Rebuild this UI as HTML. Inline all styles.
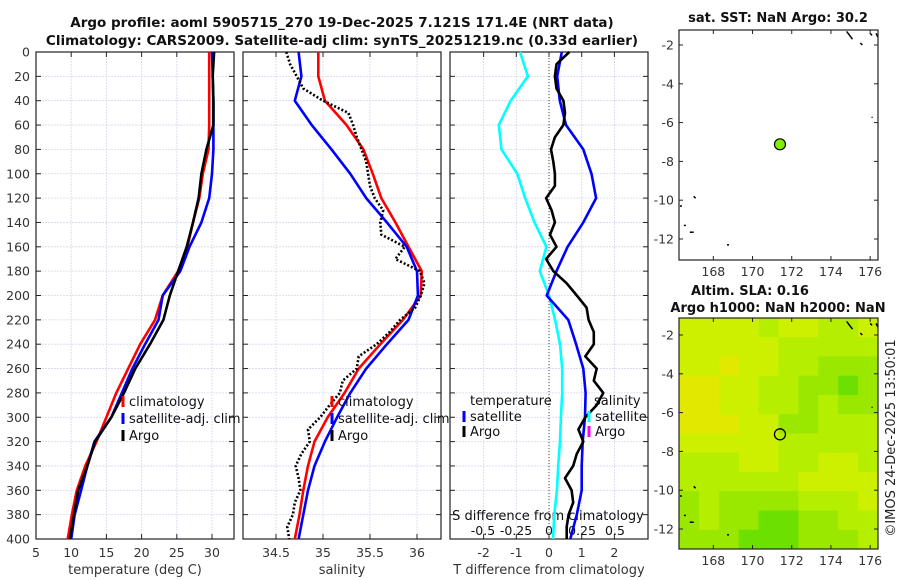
<!DOCTYPE html>
<html><head><meta charset="utf-8"><style>
body{margin:0;background:#fff;width:900px;height:580px;overflow:hidden}
svg{display:block;font-family:"DejaVu Sans","Liberation Sans",sans-serif}
</style></head><body>
<svg id="fig" width="900" height="580" viewBox="0 0 900 580" xmlns="http://www.w3.org/2000/svg"></svg>
<script>
// ---------- data ----------
const depths = [0,20,40,60,80,100,120,140,160,180,200,220,240,260,280,300,320,340,360,380,400];
const tempClim = [29.6,29.6,29.6,29.6,29.5,28.7,28.2,27.3,26.5,25.2,23.0,21.9,19.8,18.1,16.4,15.0,13.6,12.0,10.8,10.1,9.5];
const tempSat  = [30.0,30.1,30.2,30.2,30.2,30.0,29.6,28.5,26.8,25.5,23.0,22.4,20.5,18.7,17.2,15.7,13.3,12.3,11.4,10.5,10.0];
const tempArgo = [30.3,30.1,30.2,30.2,29.2,28.5,28.1,27.3,26.4,25.2,24.0,23.1,21.2,19.1,17.5,15.7,13.4,12.3,11.0,10.4,9.8];
const salClim = [34.95,34.95,35.02,35.25,35.43,35.53,35.62,35.77,35.91,36.05,36.04,35.85,35.61,35.38,35.23,35.05,34.91,34.84,34.79,34.75,34.70];
const salSat  = [34.74,34.77,34.70,34.88,35.09,35.29,35.46,35.68,35.89,36.00,36.01,35.91,35.68,35.46,35.29,35.15,35.02,34.91,34.84,34.79,34.74];
const depths10 = [0,10,20,30,40,50,60,70,80,90,100,110,120,130,140,150,160,170,180,190,200,210,220,230,240,250,260,270,280,290,300,310,320,330,340,350,360,370,380,390,400];
const salArgo = [34.61,34.65,34.72,34.79,35.0,35.27,35.32,35.36,35.41,35.46,35.48,35.5,35.55,35.64,35.61,35.62,35.87,35.77,36.03,36.08,36.04,35.98,35.82,35.71,35.57,35.38,35.36,35.21,35.18,35.07,34.97,34.84,34.86,34.77,34.71,34.74,34.76,34.70,34.68,34.62,34.64];
const tDiffArgo = [0.62,0.23,0.18,0.23,0.44,0.49,0.44,0.18,0.06,0.13,0.18,0.18,-0.09,0.08,0.18,0.03,0.23,-0.09,0.13,0.54,0.85,1.15,1.21,1.37,1.37,1.11,1.46,1.37,1.66,1.46,1.11,0.90,1.05,0.85,0.74,0.49,0.69,0.74,0.60,0.54,0.54];
const tDiffSat = [0.39,0.25,0.33,0.52,1.05,1.30,1.44,1.05,0.57,0.23,-0.07,0.59,0.83,1.05,1.12,1.10,1.03,1.00,1.00,0.85,0.65];
const sDiffSat = [-0.22,-0.16,-0.29,-0.38,-0.36,-0.24,-0.18,-0.11,-0.02,-0.07,0.0,0.046,0.083,0.10,0.10,0.09,0.083,0.07,0.06,0.04,0.03];
const depthTicks = [0,20,40,60,80,100,120,140,160,180,200,220,240,260,280,300,320,340,360,380,400];
const tempTicks = [5,10,15,20,25,30];
const salTicks = [34.5,35,35.5,36];
const salTickLabels = ["34.5","35","35.5","36"];
const tdTicks = [-2,-1,0,1,2];
const sdTicks = [-0.5,-0.25,0,0.25,0.5];
const sdTickLabels = ["-0.5","-0.25","0","0.25","0.5"];
const lonTicks = [168,170,172,174,176];
const latTicks = [-2,-4,-6,-8,-10,-12];
const argoLon = [171.4];
const argoLat = [-7.12];
// SLA map field levels (rows north->south, 10 columns)
const slaRows = ["1111211221","1111122222","1101122333","0011223343","0011223233","0001133222","1111122222","2221122112","2222221111","3233332221","3233443322","3334443332"];

// ---------- helpers ----------
const svg = document.getElementById('fig');
const NS = 'http://www.w3.org/2000/svg';
function el(tag, attrs, parent){const e=document.createElementNS(NS,tag);for(const k in attrs)e.setAttribute(k,attrs[k]);(parent||svg).appendChild(e);return e;}
function txt(s, attrs, parent){const e=el('text',attrs,parent);e.textContent=s;return e;}
const Y0=52, Y1=539;
function yD(d){return Y0+(Y1-Y0)*d/400;}
function line(xs, ys, xf, yf, stroke, w, dash){
  let p=xs.map((v,i)=>(i?'L':'M')+xf(v).toFixed(1)+','+yf(ys[i]).toFixed(1)).join('');
  const a={d:p,fill:'none',stroke:stroke,'stroke-width':w,'stroke-linejoin':'round'};
  if(dash)a['stroke-dasharray']=dash;
  return el('path',a);
}
function panel(x0,x1,name){
  const g=el('g',{});
  
  
  return g;
}
function grid(g,x0,x1,xticks,xf){
  depthTicks.forEach(d=>{el('line',{x1:x0,x2:x1,y1:yD(d),y2:yD(d),stroke:'#d4d8ee','stroke-width':0.8,'stroke-dasharray':'2,1'},g);
    el('line',{x1:x0,x2:x0+5,y1:yD(d),y2:yD(d),stroke:'#222'},g);el('line',{x1:x1-5,x2:x1,y1:yD(d),y2:yD(d),stroke:'#222'},g);});
  xticks.forEach(t=>{const x=xf(t);el('line',{x1:x,x2:x,y1:Y0,y2:Y1,stroke:'#d4d8ee','stroke-width':0.8,'stroke-dasharray':'2,1'},g);
    el('line',{x1:x,x2:x,y1:Y1-5,y2:Y1,stroke:'#222'},g);el('line',{x1:x,x2:x,y1:Y0,y2:Y0+5,stroke:'#222'},g);});
}
function frame(g,x0,x1){el('rect',{x:x0,y:Y0,width:x1-x0,height:Y1-Y0,fill:'none',stroke:'#222','stroke-width':1.2},g);}
function legItem(g,x,y,color,label,name){
  const it=el('g',{},g);
  
  
  el('line',{x1:x,x2:x,y1:y-10,y2:y+1,stroke:color,'stroke-width':3},it);
  txt(label,{x:x+6,y:y,'font-size':13,fill:'#111'},it);
}

// ---------- titles ----------
const t1=txt('Argo profile: aoml 5905715_270 19-Dec-2025 7.121S 171.4E (NRT data)',{x:342,y:27,'text-anchor':'middle','font-size':13.5,'font-weight':'bold',fill:'#111'});


const t2=txt('Climatology: CARS2009. Satellite-adj clim: synTS_20251219.nc (0.33d earlier)',{x:342,y:45,'text-anchor':'middle','font-size':13.5,'font-weight':'bold',fill:'#111'});



// ---------- panel 1: temperature ----------
const P1={x0:36,x1:234};
const xT=v=>36+(v-5)*7.04;
const g1=panel(P1.x0,P1.x1,'temperature-panel');
grid(g1,P1.x0,P1.x1,tempTicks,xT);
depthTicks.forEach(d=>txt(String(d),{x:30,y:yD(d)+4.5,'text-anchor':'end','font-size':12.5,fill:'#333'},g1));
tempTicks.forEach(t=>txt(String(t),{x:xT(t),y:557,'text-anchor':'middle','font-size':12.5,fill:'#333'},g1));
txt('temperature (deg C)',{x:135,y:574,'text-anchor':'middle','font-size':13,fill:'#333'},g1);
const lt1=line(tempClim,depths,xT,yD,'#f00',2.6);  
const lt2=line(tempSat,depths,xT,yD,'#00f',2.6);  
const lt3=line(tempArgo,depths,xT,yD,'#000',2.6);  
frame(g1,P1.x0,P1.x1);
legItem(svg,123,406,'#f00','climatology','legend-climatology');
legItem(svg,123,423,'#00f','satellite-adj. clim','legend-satellite-adj');
legItem(svg,123,440,'#000','Argo','legend-argo');

// ---------- panel 2: salinity ----------
const P2={x0:243,x1:441};
const xS=v=>276+(v-34.5)*94;
const g2=panel(P2.x0,P2.x1,'salinity-panel');
grid(g2,P2.x0,P2.x1,salTicks,xS);
salTicks.forEach((t,i)=>txt(salTickLabels[i],{x:xS(t),y:557,'text-anchor':'middle','font-size':12.5,fill:'#333'},g2));
txt('salinity',{x:342,y:574,'text-anchor':'middle','font-size':13,fill:'#333'},g2);
const ls1=line(salClim,depths,xS,yD,'#f00',2.6);  
const ls2=line(salSat,depths,xS,yD,'#00f',2.6);  
const ls3=line(salArgo,depths10,xS,yD,'#000',2.6,'2,2');  
frame(g2,P2.x0,P2.x1);
legItem(svg,332,406,'#f00','climatology','legend-sal-climatology');
legItem(svg,332,423,'#00f','satellite-adj. clim','legend-sal-satellite-adj');
legItem(svg,332,440,'#000','Argo','legend-sal-argo');

// ---------- panel 3: differences ----------
const P3={x0:450,x1:648};
const xTD=v=>549+v*32.7;
const xSD=v=>549+v*132;
const g3=panel(P3.x0,P3.x1,'difference-panel');
grid(g3,P3.x0,P3.x1,tdTicks,xTD);
el('line',{x1:549,x2:549,y1:Y0,y2:Y1,stroke:'#444','stroke-width':1,'stroke-dasharray':'1,2'},g3);
tdTicks.forEach(t=>txt(String(t),{x:xTD(t),y:557,'text-anchor':'middle','font-size':12.5,fill:'#333'},g3));
txt('T difference from climatology',{x:549,y:574,'text-anchor':'middle','font-size':13,fill:'#333'},g3);
const ld1=line(sDiffSat,depths,xSD,yD,'#0ff',2.6);  
const ld2=line(tDiffSat,depths,xTD,yD,'#00f',2.6);  
const ld3=line(tDiffArgo,depths10,xTD,yD,'#000',2.6);  
frame(g3,P3.x0,P3.x1);
txt('S difference from climatology',{x:548,y:520,'text-anchor':'middle','font-size':13,fill:'#111'},g3);
sdTicks.forEach((t,i)=>txt(sdTickLabels[i],{x:xSD(t),y:535,'text-anchor':'middle','font-size':12.5,fill:'#111'},g3));
txt('temperature',{x:470,y:405,'font-size':13,fill:'#111'},g3);
txt('salinity',{x:594,y:405,'font-size':13,fill:'#111'},g3);
legItem(svg,464,421,'#00f','satellite','legend-diff-temp-satellite');
legItem(svg,464,436,'#000','Argo','legend-diff-temp-argo');
legItem(svg,589,421,'#0ff','satellite','legend-diff-sal-satellite');
legItem(svg,589,436,'#f0f','Argo','legend-diff-sal-argo');

// ---------- maps ----------
const MX0=679, MX1=878;
const xL=v=>MX0+(v-166.25)*(MX1-MX0)/(176.4-166.25);
function mapAxes(g,y0,y1,latY){
  el('rect',{x:MX0,y:y0,width:MX1-MX0,height:y1-y0,fill:'none',stroke:'#222','stroke-width':1.2},g);
  lonTicks.forEach(l=>{const x=xL(l);el('line',{x1:x,x2:x,y1:y1-4,y2:y1,stroke:'#222'},g);el('line',{x1:x,x2:x,y1:y0,y2:y0+4,stroke:'#222'},g);
    txt(String(l),{x:x,y:y1+16,'text-anchor':'middle','font-size':12.5,fill:'#333'},g);});
  latTicks.forEach(l=>{const y=latY(l);el('line',{x1:MX0,x2:MX0+4,y1:y,y2:y,stroke:'#222'},g);el('line',{x1:MX1-4,x2:MX1,y1:y,y2:y,stroke:'#222'},g);
    txt(String(l),{x:MX0-5,y:y+4.5,'text-anchor':'end','font-size':12.5,fill:'#333'},g);});
}
function coast(g,latY){
  const pts=[[174.8,-1.3,175.1,-1.7],[176.0,-1.4,176.1,-1.5],[176.3,-1.4,176.4,-1.6],[175.5,-1.9,175.6,-2.0],[176.1,-5.7,176.1,-5.75],[167.0,-9.8,167.1,-9.9],[166.3,-10.3,166.4,-10.3],[166.5,-11.3,166.6,-11.3],[166.8,-11.65,167.0,-11.65],[168.7,-12.3,168.8,-12.3]];
  pts.forEach(p=>el('line',{x1:xL(p[0]),y1:latY(p[1]),x2:xL(p[2]),y2:latY(p[3]),stroke:'#000','stroke-width':1.5},g));
}
// map 1: SST
const latY1=v=>45+(v+2)*(-19.4);
const m1=el('g',{});


txt('sat. SST: NaN Argo: 30.2',{x:778,y:22,'text-anchor':'middle','font-size':13,'font-weight':'bold',fill:'#111'},m1);
coast(m1,latY1);
mapAxes(m1,30,260,latY1);
const d1=el('circle',{cx:xL(argoLon[0]),cy:latY1(argoLat[0]),r:5.5,fill:'#80ee00',stroke:'#000','stroke-width':1.2},m1);


// map 2: SLA
const latY2=v=>335+(v+2)*(-19.4);
const m2=el('g',{});


txt('Altim. SLA: 0.16',{x:750,y:295,'text-anchor':'middle','font-size':13,'font-weight':'bold',fill:'#111'},m2);
txt('Argo h1000: NaN h2000: NaN',{x:778,y:312,'text-anchor':'middle','font-size':13,'font-weight':'bold',fill:'#111'},m2);
const slaColors=['#e2e800','#ccf000','#b6ee00','#9ae800','#6ce000'];
const MY0=318, MY1=549;
const cw=(MX1-MX0)/10, ch=(MY1-MY0)/slaRows.length;
slaRows.forEach((row,r)=>{row.split('').forEach((c,k)=>{
  el('rect',{x:MX0+k*cw,y:MY0+r*ch,width:cw+0.5,height:ch+0.5,fill:slaColors[+c]},m2);});});
coast(m2,latY2);
mapAxes(m2,MY0,MY1,latY2);
const d2=el('circle',{cx:xL(argoLon[0]),cy:latY2(argoLat[0]),r:5.5,fill:'none',stroke:'#000','stroke-width':1.3},m2);


const cp=txt('©IMOS 24-Dec-2025 13:50:01',{x:0,y:0,'text-anchor':'middle','font-size':13,fill:'#222',transform:'translate(895,438) rotate(-90)'});


</script>
</body></html>
